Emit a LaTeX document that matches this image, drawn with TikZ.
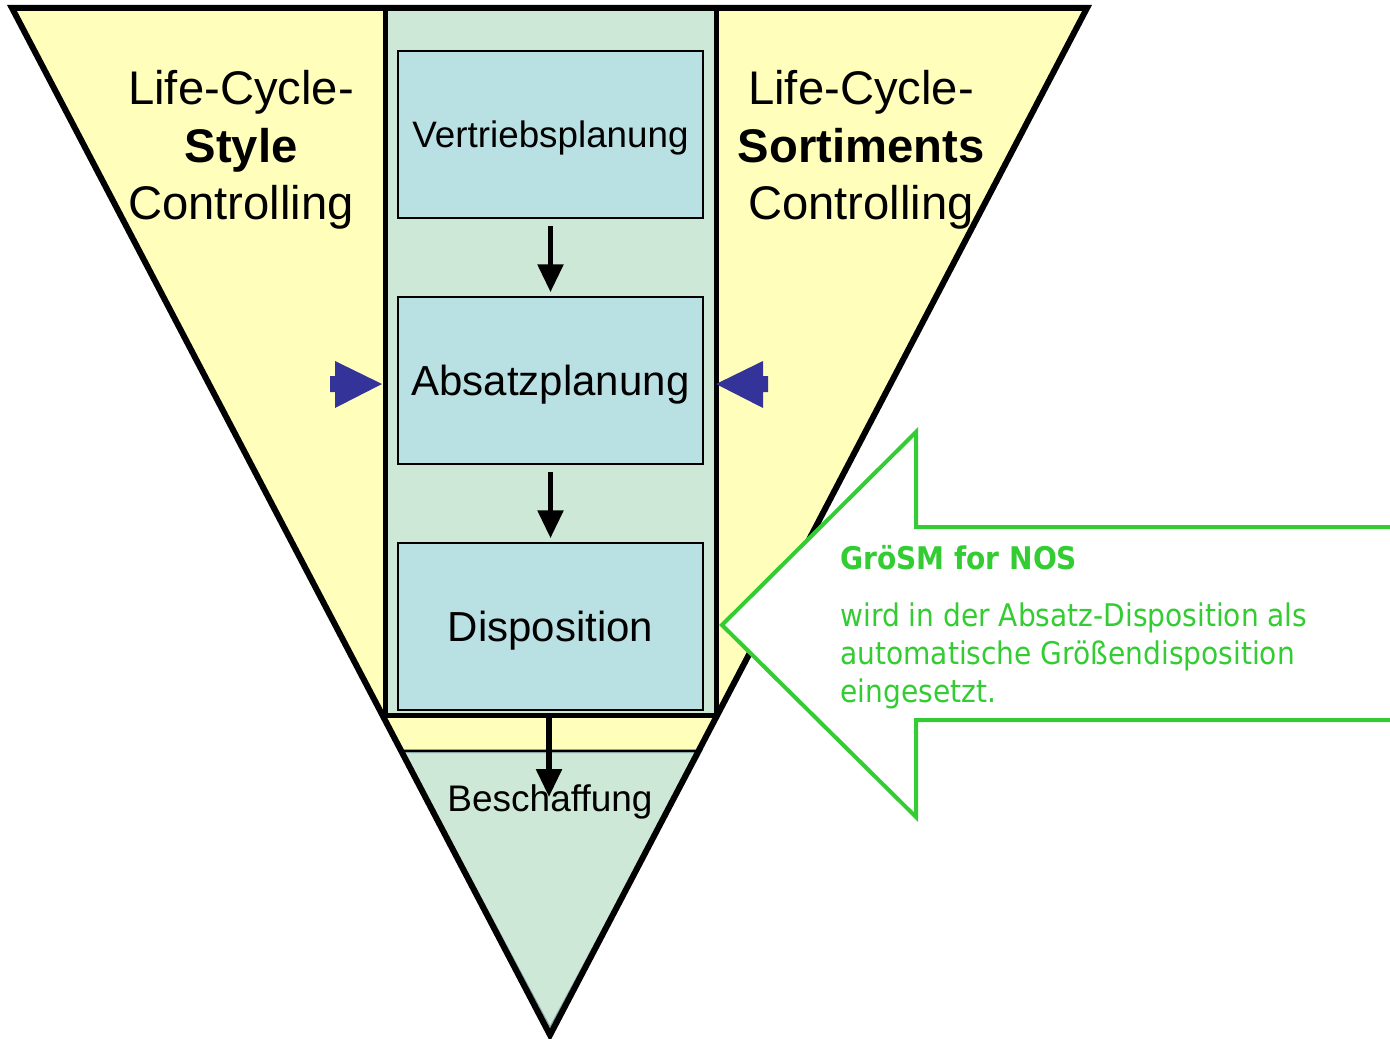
\documentclass[tikz,border=0pt]{standalone}
\usepackage{fontspec}
\setmainfont{Liberation Sans}
\newfontfamily\notefont{DejaVu Sans Condensed}
\usetikzlibrary{arrows.meta,positioning}
\definecolor{lcyellow}{HTML}{FFFFBB}
\definecolor{colgreen}{HTML}{CDE8D6}
\definecolor{boxblue}{HTML}{B9E0E3}
\definecolor{edgegray}{HTML}{8AA6A8}
\definecolor{pushblue}{HTML}{333399}
\definecolor{notegreen}{HTML}{33CC33}
\begin{document}
\begin{tikzpicture}[x=0.5pt, y=-0.5pt,
    stage/.style={draw=black, line width=0.75pt, fill=boxblue, inner sep=0pt,
      minimum width=152.5pt, minimum height=83.5pt, text depth=0pt},
    flow/.style={line width=2.8pt, -{Triangle[length=14pt,width=12.5pt]}},
    side/.style={align=center, inner sep=0pt, font=\fontsize{23.6}{28.7}\selectfont},
    note/.style={inner sep=0pt, text=notegreen, align=left}]
   \useasboundingbox (0,0) rectangle (1390,1038);
   % funnel and column
   \fill[lcyellow] (12,8) -- (1087,8) -- (550,1035) -- cycle;
   \fill[colgreen] (385,8) rectangle (716,715);
   \draw[fill=colgreen, draw=edgegray, line width=2pt] (401,751) -- (700,751) -- (550,1030) -- cycle;
   \draw[line width=0.75pt] (401,751) -- (700,751);
   \draw[line width=3pt] (12,8) -- (1087,8) -- (550,1035) -- cycle;
   \draw[line width=2.5pt] (385,8) rectangle (716,715);
   % planning steps
   \node[stage, text height=13.4pt, font=\fontsize{18.4}{22}\selectfont] (vertrieb) at (550.5,134.5) {Vertriebsplanung};
   \node[stage, text height=15pt, font=\fontsize{21}{25}\selectfont] (absatz) at (550.5,380.5) {Absatzplanung};
   \node[stage, text height=15pt, font=\fontsize{21}{25}\selectfont] (dispo) at (550.5,626.5) {Disposition};
   \node[anchor=base, inner sep=0pt, font=\fontsize{18.5}{22}\selectfont] (beschaffung) at (550,811) {Beschaffung};
   \coordinate (colbottom) at (549,715);
   \coordinate (einkauf) at (549,797);
   \draw[flow, shorten <=3.5pt, shorten >=2pt] (vertrieb) -- (absatz);
   \draw[flow, shorten <=3.5pt, shorten >=2pt] (absatz) -- (dispo);
   \draw[flow] (colbottom) -- (einkauf);
   % side labels
   \node[side] (stylelabel) at (241,150) {Life-Cycle-\\\textbf{Style}\\Controlling};
   \node[side] (sortlabel) at (861,150) {Life-Cycle-\\\textbf{Sortiments}\\Controlling};
   \fill[pushblue] (330,376) -- (335,376) -- (335,361) -- (382,384) -- (335,408) -- (335,392) -- (330,392) -- cycle;
   \fill[pushblue] (768,376) -- (763,376) -- (763,361) -- (716,384) -- (763,408) -- (763,392) -- (768,392) -- cycle;
   % GroeSM arrow
   \filldraw[fill=white, draw=notegreen, line width=2pt] (1400,527) -- (916,527) -- (916,432) -- (722,625)
      -- (916,817) -- (916,720) -- (1400,720);
   \node[note, anchor=base west, font=\notefont\bfseries\fontsize{15.6}{19}\selectfont] (title) at (840,569) {GröSM for NOS};
   \node[note, anchor=north west, font=\notefont\fontsize{15.6}{19}\selectfont] (notetext) at (840,602)
      {wird in der Absatz-Disposition als\\automatische Größendisposition\\eingesetzt.};
\end{tikzpicture}
\end{document}
